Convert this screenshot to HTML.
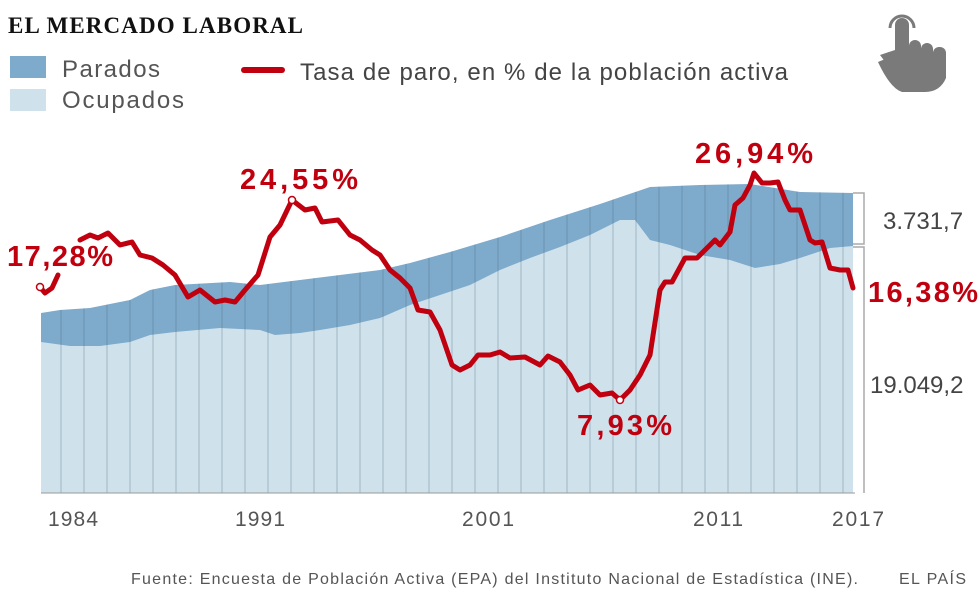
<!DOCTYPE html>
<html><head><meta charset="utf-8"><style>
body{margin:0;background:#fff;width:980px;height:597px;overflow:hidden;font-family:"Liberation Sans",sans-serif}
</style></head><body>
<svg width="980" height="597" xmlns="http://www.w3.org/2000/svg" font-family="Liberation Sans, sans-serif">
<defs>
<clipPath id="ar"><path d="M41,313 L60,310 L90,308 L130,300 L150,290 L175,285 L230,282 L260,285 L300,280 L340,275 L380,270 L410,263 L450,252 L500,237 L550,220 L600,204 L650,187 L700,185 L750,184 L800,192 L853,193 L853,493 L41,493 Z"/></clipPath>
</defs>
<text x="8" y="33" font-family="Liberation Serif, serif" font-weight="bold" font-size="23" fill="#111" textLength="295">EL MERCADO LABORAL</text>
<rect x="10" y="56" width="36" height="22" fill="#7eaacb"/>
<text x="62" y="77" font-size="24" fill="#555" textLength="98">Parados</text>
<rect x="10" y="89" width="36" height="22" fill="#cfe2ec"/>
<text x="62" y="108" font-size="24" fill="#555" textLength="122">Ocupados</text>
<line x1="244" y1="70" x2="282" y2="70" stroke="#c0000f" stroke-width="6" stroke-linecap="round"/>
<text x="300" y="80" font-size="24" fill="#444" textLength="488">Tasa de paro, en % de la población activa</text>
<!-- hand icon -->
<g fill="#7a7a7a">
<rect x="895" y="18" width="14" height="44" rx="7"/>
<rect x="909" y="40" width="12" height="24" rx="6"/>
<rect x="921" y="43" width="12" height="22" rx="6"/>
<rect x="933" y="47" width="13" height="22" rx="6"/>
<path d="M880 55 L895 50 L895 75 Z"/>
<path d="M895 55 L946 58 L946 78 Q940 92 925 92 L902 92 Q890 88 878 62 Z"/>
</g>
<path d="M890 28 A12 12 0 0 1 914 28" fill="none" stroke="#7a7a7a" stroke-width="3"/>
<!-- areas -->
<path d="M41,313 L60,310 L90,308 L130,300 L150,290 L175,285 L230,282 L260,285 L300,280 L340,275 L380,270 L410,263 L450,252 L500,237 L550,220 L600,204 L650,187 L700,185 L750,184 L800,192 L853,193 L853,493 L41,493 Z" fill="#7eaacb"/>
<path d="M41,342 L70,346 L100,346 L130,342 L150,335 L175,332 L220,328 L260,330 L275,335 L300,333 L320,330 L350,325 L380,318 L410,305 L440,295 L470,285 L500,270 L530,258 L560,247 L590,235 L620,220 L635,220 L650,240 L670,245 L700,255 L730,260 L755,268 L780,264 L800,258 L830,248 L853,246 L853,493 L41,493 Z" fill="#cfe2ec"/>
<g stroke="#4a6275" stroke-opacity="0.35" stroke-width="1" clip-path="url(#ar)">
<line x1="61" y1="180" x2="61" y2="493"/><line x1="84" y1="180" x2="84" y2="493"/><line x1="107" y1="180" x2="107" y2="493"/><line x1="130" y1="180" x2="130" y2="493"/><line x1="153" y1="180" x2="153" y2="493"/><line x1="176" y1="180" x2="176" y2="493"/><line x1="199" y1="180" x2="199" y2="493"/><line x1="222" y1="180" x2="222" y2="493"/><line x1="245" y1="180" x2="245" y2="493"/><line x1="268" y1="180" x2="268" y2="493"/><line x1="291" y1="180" x2="291" y2="493"/><line x1="314" y1="180" x2="314" y2="493"/><line x1="337" y1="180" x2="337" y2="493"/><line x1="360" y1="180" x2="360" y2="493"/><line x1="383" y1="180" x2="383" y2="493"/><line x1="406" y1="180" x2="406" y2="493"/><line x1="429" y1="180" x2="429" y2="493"/><line x1="452" y1="180" x2="452" y2="493"/><line x1="475" y1="180" x2="475" y2="493"/><line x1="498" y1="180" x2="498" y2="493"/><line x1="521" y1="180" x2="521" y2="493"/><line x1="544" y1="180" x2="544" y2="493"/><line x1="567" y1="180" x2="567" y2="493"/><line x1="590" y1="180" x2="590" y2="493"/><line x1="613" y1="180" x2="613" y2="493"/><line x1="636" y1="180" x2="636" y2="493"/><line x1="659" y1="180" x2="659" y2="493"/><line x1="682" y1="180" x2="682" y2="493"/><line x1="705" y1="180" x2="705" y2="493"/><line x1="728" y1="180" x2="728" y2="493"/><line x1="751" y1="180" x2="751" y2="493"/><line x1="774" y1="180" x2="774" y2="493"/><line x1="797" y1="180" x2="797" y2="493"/><line x1="820" y1="180" x2="820" y2="493"/><line x1="843" y1="180" x2="843" y2="493"/>
</g>
<!-- bracket -->
<path d="M853,193 L864,193 L864,244 L853,244" fill="none" stroke="#aaa" stroke-width="1.5"/>
<path d="M853,247 L864,247 L864,493" fill="none" stroke="#aaa" stroke-width="1.5"/>
<text x="883" y="229" font-size="24" fill="#444">3.731,7</text>
<text x="870" y="393" font-size="24" fill="#444">19.049,2</text>
<!-- red line -->
<polyline fill="none" stroke="#c0000f" stroke-width="5" stroke-linejoin="round" stroke-linecap="round" points="40,287 45,293 52,288 58,275"/>
<polyline fill="none" stroke="#c0000f" stroke-width="5" stroke-linejoin="round" stroke-linecap="round" points="80,240 90,235 98,238 108,233 120,245 132,242 140,255 152,258 163,265 175,275 188,297 200,290 215,302 225,300 235,302 245,290 258,275 270,237 280,225 292,200 305,210 315,208 322,222 338,220 350,235 360,240 372,250 380,255 390,270 400,278 410,288 418,310 430,312 440,330 452,365 460,370 470,365 478,355 490,355 500,352 510,358 525,357 540,365 548,356 560,362 570,375 578,390 590,385 600,395 612,393 620,400 630,390 640,375 650,355 660,290 665,282 672,282 685,258 697,258 705,250 715,240 720,245 730,232 735,205 743,198 750,185 754,173 762,183 770,183 778,182 785,200 790,210 800,210 810,240 815,243 822,242 830,268 840,270 848,270 853,288"/>
<circle cx="40" cy="287" r="3.5" fill="#fff" stroke="#c0000f" stroke-width="1.5"/>
<circle cx="292" cy="200" r="3.5" fill="#fff" stroke="#c0000f" stroke-width="1.5"/>
<circle cx="620" cy="400" r="3.5" fill="#fff" stroke="#c0000f" stroke-width="1.5"/>
<g font-weight="bold" font-size="29" fill="#c0000f">
<text x="7" y="266" textLength="106">17,28%</text>
<text x="240" y="189" textLength="118">24,55%</text>
<text x="577" y="435" textLength="95">7,93%</text>
<text x="695" y="163" textLength="118">26,94%</text>
<text x="868" y="302" textLength="110">16,38%</text>
</g>
<line x1="41" y1="493" x2="855" y2="493" stroke="#999" stroke-width="1"/>
<g font-size="21" fill="#555">
<text x="48" y="526" textLength="50">1984</text>
<text x="235" y="526" textLength="50">1991</text>
<text x="462" y="526" textLength="52">2001</text>
<text x="693" y="526" textLength="50">2011</text>
<text x="832" y="526" textLength="52">2017</text>
</g>
<text x="131" y="584" font-size="16" fill="#555" textLength="727">Fuente: Encuesta de Población Activa (EPA) del Instituto Nacional de Estadística (INE).</text>
<text x="899" y="584" font-size="16" fill="#555" textLength="67">EL PAÍS</text>
</svg>
</body></html>
